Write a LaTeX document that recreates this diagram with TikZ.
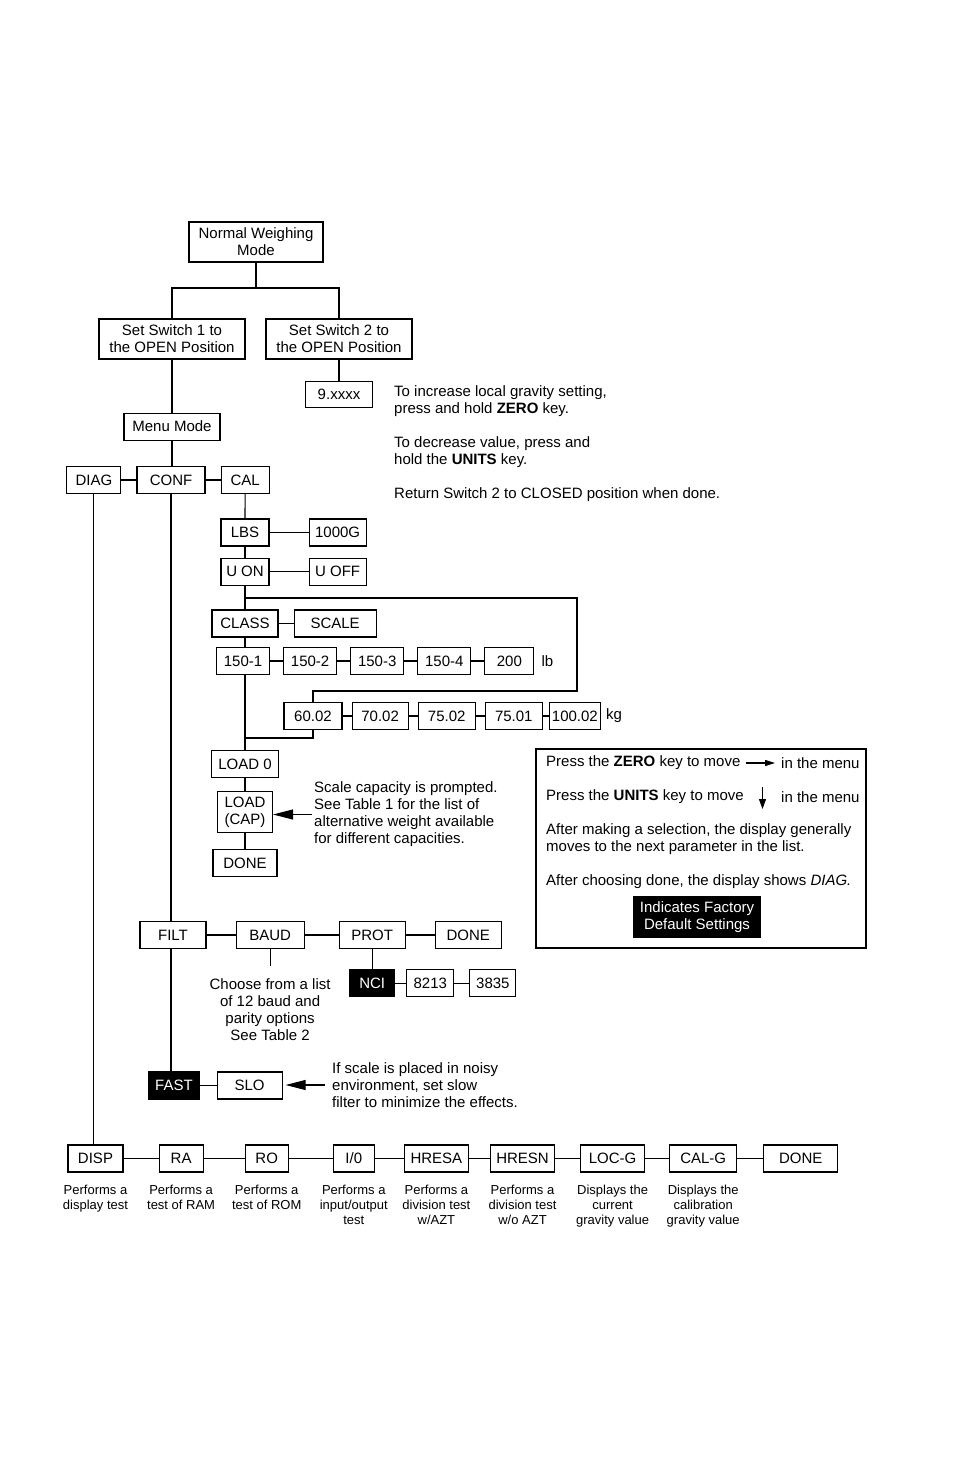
\documentclass[tikz,border=0pt]{standalone}
\usepackage{fontspec}
\setmainfont{Liberation Sans}
\usetikzlibrary{positioning, arrows.meta, calc}
\newcommand\mainsize{\fontsize{15}{17}\selectfont}
\newcommand\descsize{\fontsize{13}{15}\selectfont}

\begin{document}
\begin{tikzpicture}[x=1pt, y=-1pt,
            font=\mainsize,
            box/.style={draw, line width=1.1pt, minimum height=27pt, inner sep=2pt, align=center},
            dflt/.style={box, fill=black, text=white},
            note/.style={inner sep=0pt, align=left},
            desc/.style={inner sep=0pt, align=center, font=\descsize},
            link/.style={line width=1.1pt},
            pointer/.style={line width=1.1pt, -{Triangle[length=20pt, width=10pt]}}
        ]
            \useasboundingbox (0,0) rectangle (954,1474);

            % top of the menu
            \node[box, minimum width=134pt, minimum height=40pt] (nwm) at (256,242) {Normal Weighing\\Mode};
            \node[box, minimum width=146pt, minimum height=40pt] (sw1) at (172,339) {Set Switch 1 to\\the OPEN Position};
            \node[box, minimum width=146pt, minimum height=40pt] (sw2) at (339,339) {Set Switch 2 to\\the OPEN Position};
            \node[box, minimum width=67pt, minimum height=26pt, below=21pt of sw2] (grav) {9.xxxx};
            \node[note, anchor=west] (gravnote) at (394,443.5) {To increase local gravity setting,\\press and hold \textbf{ZERO} key.\\[17pt]To decrease value, press and\\hold the \textbf{UNITS} key.\\[17pt]Return Switch 2 to CLOSED position when done.};
            \node[box, minimum width=96pt, below=53pt of sw1] (menu) {Menu Mode};
            \node[box, minimum width=68pt] (conf) at (171,480) {CONF};
            \node[box, minimum width=54pt, left=15pt of conf] (diag) {DIAG};
            \node[box, minimum width=48pt, right=15pt of conf] (cal) {CAL};

            % CAL branch
            \node[box, minimum width=48pt] (lbs) at (245,532.5) {LBS};
            \node[box, minimum width=57pt, right=39pt of lbs] (thou) {1000G};
            \node[box, minimum width=48pt, below=11pt of lbs] (uon) {U ON};
            \node[box, minimum width=57pt, right=39pt of uon] (uoff) {U OFF};
            \node[box, minimum width=66pt] (class) at (245,623.5) {CLASS};
            \node[box, minimum width=82pt, right=15pt of class] (scale) {SCALE};
            \node[box, minimum width=53pt] (lb1) at (243,661) {150-1};
            \node[box, minimum width=53pt, right=13pt of lb1] (lb2) {150-2};
            \node[box, minimum width=53pt, right=13pt of lb2] (lb3) {150-3};
            \node[box, minimum width=53pt, right=13pt of lb3] (lb4) {150-4};
            \node[box, minimum width=49pt, right=13pt of lb4] (lb5) {200};
            \node[inner sep=0pt, right=7pt of lb5] (lbunit) {lb};
            \node[box, minimum width=58pt] (k1) at (313,716) {60.02};
            \node[box, minimum width=56pt, right=9pt of k1] (k2) {70.02};
            \node[box, minimum width=57pt, right=9pt of k2] (k3) {75.02};
            \node[box, minimum width=57pt, right=9pt of k3] (k4) {75.01};
            \node[box, minimum width=51pt, right=6pt of k4] (k5) {100.02};
            \node[inner sep=0pt, right=5pt of k5] (kgunit) {kg};
            \node[box, minimum width=67pt] (load0) at (245,764) {LOAD 0};
            \node[box, minimum width=55pt, minimum height=41pt, below=13pt of load0] (loadcap) {LOAD\\(CAP)};
            \node[box, minimum width=64pt, below=16pt of loadcap] (done1) {DONE};
            \node[note, anchor=west] (capnote) at (314,814.5) {Scale capacity is prompted.\\See Table 1 for the list of\\alternative weight available\\for different capacities.};

            % legend
            \node[draw, line width=1.1pt, minimum width=330pt, minimum height=199pt] (legend) at (701,848.5) {};
            \node[note, anchor=west] (zl1a) at (546,763) {Press the \textbf{ZERO} key to move};
            \node[note, anchor=west] (zl1b) at (781,763) {in the menu};
            \node[note, anchor=west] (zl2a) at (546,797) {Press the \textbf{UNITS} key to move};
            \node[note, anchor=west] (zl2b) at (781,797) {in the menu};
            \node[note, anchor=west] (zl3) at (546,839.5) {After making a selection, the display generally\\moves to the next parameter in the list.};
            \node[note, anchor=west] (zl4) at (546,882) {After choosing done, the display shows \textit{DIAG.}};
            \node[dflt, minimum width=126pt, minimum height=40pt] (factory) at (697,917) {Indicates Factory\\Default Settings};
            \coordinate (dn) at ($(zl2a.east)!0.5!(zl2b.west)$);

            % CONF branch
            \node[box, minimum width=66pt] (filt) at (173,935) {FILT};
            \node[box, minimum width=68pt, right=29pt of filt] (baud) {BAUD};
            \node[box, minimum width=66pt, right=34pt of baud] (prot) {PROT};
            \node[box, minimum width=66pt, right=29pt of prot] (done2) {DONE};
            \coordinate[below=17pt of baud.south] (baudend);
            \node[note, align=center, below=29pt of baud] (baudnote) {Choose from a list\\of 12 baud and\\parity options\\See Table 2};
            \node[dflt, minimum width=45pt, below=20pt of prot] (nci) {NCI};
            \node[box, minimum width=47pt, right=11pt of nci] (p8213) {8213};
            \node[box, minimum width=46pt, right=15pt of p8213] (p3835) {3835};
            \node[dflt, minimum width=50pt] (fast) at (174,1085.5) {FAST};
            \node[box, minimum width=65pt, right=17pt of fast] (slo) {SLO};
            \node[note, anchor=west] (slonote) at (332,1085) {If scale is placed in noisy\\environment, set slow\\filter to minimize the effects.};

            % DIAG branch
            \node[box, minimum width=55pt] (disp) at (95.5,1158.5) {DISP};
            \node[box, minimum width=44pt, right=35pt of disp] (ra) {RA};
            \node[box, minimum width=43pt, right=41pt of ra] (ro) {RO};
            \node[box, minimum width=41pt, right=44pt of ro] (io) {I/0};
            \node[box, minimum width=64pt, right=29pt of io] (hresa) {HRESA};
            \node[box, minimum width=64pt, right=21pt of hresa] (hresn) {HRESN};
            \node[box, minimum width=64pt, right=25pt of hresn] (locg) {LOC-G};
            \node[box, minimum width=67pt, right=24pt of locg] (calg) {CAL-G};
            \node[box, minimum width=74pt, right=26pt of calg] (done3) {DONE};
            \node[desc, below=12pt of disp] (dispnote) {Performs a\\display test};
            \node[desc, below=12pt of ra] (ranote) {Performs a\\test of RAM};
            \node[desc, below=12pt of ro] (ronote) {Performs a\\test of ROM};
            \node[desc, below=12pt of io] (ionote) {Performs a\\input/output\\test};
            \node[desc, below=12pt of hresa] (hresanote) {Performs a\\division test\\w/AZT};
            \node[desc, below=12pt of hresn] (hresnnote) {Performs a\\division test\\w/o AZT};
            \node[desc, below=12pt of locg] (locgnote) {Displays the\\current\\gravity value};
            \node[desc, below=12pt of calg] (calgnote) {Displays the\\calibration\\gravity value};

            \coordinate (fork) at (256,288);
            \coordinate (bytop) at (577,598);
            \coordinate (bybot) at (577,691);
            \coordinate (kjoin) at (245,738);

            \draw[link] (nwm.south) -- (fork);
            \draw[link] (sw1.north) |- (fork) -| (sw2.north);
            \draw[link] (sw2) -- (grav);
            \draw[link] (sw1) -- (menu);
            \draw[link] (menu.south) -- (menu.south |- conf.north);
            \draw[link] (diag) -- (conf);
            \draw[link] (conf) -- (cal);

            \draw[link] (cal) -- (lbs);
            \draw[link] (lbs) -- (thou);
            \draw[link] (lbs) -- (uon);
            \draw[link] (uon) -- (uoff);
            \draw[link] (uon) -- (class);
            \draw[link] (uon.south |- bytop) -- (bytop) -- (bybot) -| (k1.north);
            \draw[link] (class) -- (scale);
            \draw[link] (class) -- (class |- lb1.north);
            \draw[link] (lb1) -- (lb2);
            \draw[link] (lb2) -- (lb3);
            \draw[link] (lb3) -- (lb4);
            \draw[link] (lb4) -- (lb5);
            \draw[link] (k1) -- (k2);
            \draw[link] (k2) -- (k3);
            \draw[link] (k3) -- (k4);
            \draw[link] (k4) -- (k5);
            \draw[link] (k1.south) |- (kjoin);
            \draw[link] (class |- lb1.south) -- (load0);
            \draw[link] (load0) -- (loadcap);
            \draw[link] (loadcap) -- (done1);
            \draw[pointer] ([xshift=-2pt]capnote.west) -- (loadcap.east |- capnote.west);

            \draw[link, -{Triangle[length=10pt, width=6pt]}] ([xshift=5pt]zl1a.east) -- ([xshift=-6pt]zl1b.west);
            \draw[link, -{Triangle[length=10pt, width=7pt]}] ([yshift=10pt]dn) -- ([yshift=-12pt]dn);

            \draw[link] (conf.south) -- (conf.south |- filt.north);
            \draw[link] (filt) -- (baud);
            \draw[link] (baud) -- (prot);
            \draw[link] (prot) -- (done2);
            \draw[link] (baud.south) -- (baudend);
            \draw[link] (prot) -- (nci);
            \draw[link] (nci) -- (p8213);
            \draw[link] (p8213) -- (p3835);
            \draw[link] (conf.south |- filt.south) -- (conf.south |- fast.north);
            \draw[link] (fast) -- (slo);
            \draw[pointer, shorten >=3pt] ([xshift=-7pt]slonote.west) -- (slo.east |- slonote.west);

            \draw[link] (diag.south) -- (diag.south |- disp.north);
            \draw[link] (disp) -- (ra);
            \draw[link] (ra) -- (ro);
            \draw[link] (ro) -- (io);
            \draw[link] (io) -- (hresa);
            \draw[link] (hresa) -- (hresn);
            \draw[link] (hresn) -- (locg);
            \draw[link] (locg) -- (calg);
            \draw[link] (calg) -- (done3);
        \end{tikzpicture}
\end{document}
